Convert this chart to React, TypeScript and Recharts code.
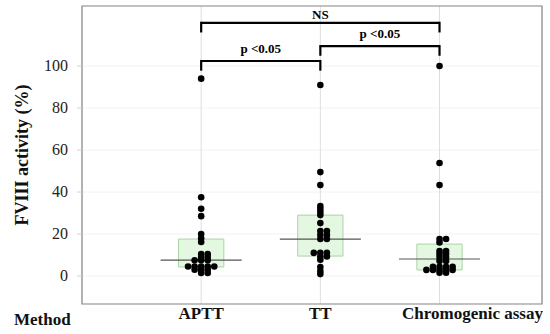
import { ComposedChart, Scatter, XAxis, YAxis, CartesianGrid, ReferenceArea, ReferenceLine } from 'recharts'

const methods = ['APTT', 'TT', 'Chromogenic assay']

// FVIII activity (%) per patient
const apttValues = [94, 37.5, 32, 28.5, 20, 18, 16.2, 10.5, 10.5, 9, 9, 7.5, 7.5, 7.5, 4.5, 4.5, 4.5, 4.5, 4.5, 3, 3, 3, 1.4, 1.4]
const ttValues = [91, 49.5, 43.3, 33.3, 31.9, 30.5, 29, 25.2, 21.4, 21.4, 19.5, 19.5, 17.6, 17.6, 11, 11, 11, 9.3, 9.3, 7.8, 4.3, 2.4, 0.9]
const chromogenicValues = [100, 53.8, 43.3, 17.6, 17.6, 16, 11.9, 11.9, 10.5, 10.5, 9, 9, 7.2, 7.2, 4.4, 4.4, 4.4, 4.4, 2.9, 2.9, 2.9, 2.9, 2.9, 1.6, 1.6]

// box summaries
const q1Values = [4.3, 9.5, 2.9]
const medianValues = [7.6, 17.6, 8.1]
const q3Values = [17.6, 29, 15.2]

const yTicks = [0, 20, 40, 60, 80, 100]

const comparisons = [
  { from: 0, to: 2, label: 'NS' },
  { from: 0, to: 1, label: 'p <0.05' },
  { from: 1, to: 2, label: 'p <0.05' },
]

// layout
const W = 550
const H = 334
const X_DOMAIN: [number, number] = [0, 3.86]
const Y_DOMAIN: [number, number] = [-13.33, 128.6]
const BOX_HALF = 0.19
const MEDIAN_HALF = 0.34
const DOT_STEP = 0.055
const BIN = 1.5
const bracketLevels = [120.6, 102.4, 109.5]
const LEG = 4.6
const labelShift = [0, 0, 33]
const FONT = 'Liberation Serif'
const serif = { fontFamily: FONT }

// simple dot-plot layout: values in the same bin sit side by side
function layoutDots(values: number[], center: number) {
  const bins: Record<number, number> = {}
  return values.map(v => {
    const b = Math.round(v / BIN)
    const i = bins[b] ?? 0
    bins[b] = i + 1
    const k = i === 0 ? 0 : (i % 2 === 1 ? (i + 1) / 2 : -i / 2)
    return { x: center + k * DOT_STEP, y: v }
  })
}

const groups = [apttValues, ttValues, chromogenicValues]
const points = groups.flatMap((vals, i) => layoutDots(vals, i + 1))

const Dot = (p: any) => <circle cx={p.cx} cy={p.cy} r={3.3} fill="#000" />

const MethodTick = (p: any) => {
  const idx = Math.round(p.payload.value) - 1
  return (
    <text x={p.x + labelShift[idx]} y={p.y + 15} textAnchor="middle" style={serif} fontSize={17} fontWeight="bold" fill="#111">
      {methods[idx]}
    </text>
  )
}

const ValueTick = (p: any) => (
  <text x={p.x} y={p.y} dy={5} textAnchor="end" style={serif} fontSize={16} fill="#222">
    {p.payload.value}
  </text>
)

export default function App() {
  return (
    <div style={{ position: 'absolute', left: 0, top: 0, background: '#fff', fontFamily: FONT }}>
      <ComposedChart width={W} height={H} margin={{ top: 6, right: 8, bottom: 0, left: 0 }} style={serif}>
        <CartesianGrid vertical={false} stroke="#f2f2f2" />
        <CartesianGrid horizontal={false} stroke="#dedede" />
        <XAxis
          type="number"
          dataKey="x"
          domain={X_DOMAIN}
          ticks={[1, 2, 3]}
          height={30}
          axisLine={false}
          tickLine={false}
          tickSize={0}
          tickMargin={0}
          tick={<MethodTick />}
          label={{
            content: (props: any) => (
              <text x={props.viewBox.x - 68} y={props.viewBox.y + 21} style={serif} fontSize={17} fontWeight="bold" fill="#111">
                Method
              </text>
            ),
          }}
        />
        <YAxis
          type="number"
          dataKey="y"
          domain={Y_DOMAIN}
          ticks={yTicks}
          width={82}
          axisLine={false}
          tickSize={5}
          tickMargin={9}
          tickLine={{ stroke: '#cfcfcf' }}
          tick={<ValueTick />}
          label={{
            content: (props: any) => (
              <text
                transform={`translate(22, ${props.viewBox.y + props.viewBox.height / 2}) rotate(-90)`}
                textAnchor="middle"
                dominantBaseline="central"
                style={serif}
                fontSize={18}
                fontWeight="bold"
                fill="#111"
              >
                FVIII activity (%)
              </text>
            ),
          }}
        />
        <ReferenceArea x1={X_DOMAIN[0]} x2={X_DOMAIN[1]} y1={Y_DOMAIN[0]} y2={Y_DOMAIN[1]} fill="none" stroke="#8a8a8a" strokeWidth={1.2} />
        {methods.map((m, i) => (
          <ReferenceArea
            key={m}
            x1={i + 1 - BOX_HALF}
            x2={i + 1 + BOX_HALF}
            y1={q1Values[i]}
            y2={q3Values[i]}
            fill="#e3f7e1"
            fillOpacity={1}
            stroke="#abd3a7"
          />
        ))}
        {methods.map((m, i) => (
          <ReferenceLine
            key={`med-${m}`}
            segment={[{ x: i + 1 - MEDIAN_HALF, y: medianValues[i] }, { x: i + 1 + MEDIAN_HALF, y: medianValues[i] }]}
            stroke="#555"
            strokeWidth={1.2}
          />
        ))}
        <Scatter data={points} shape={<Dot />} isAnimationActive={false} />
        {comparisons.map((c, i) => {
          const lvl = bracketLevels[i]
          return [
            <ReferenceLine
              key={`b-${i}`}
              segment={[{ x: c.from + 1, y: lvl }, { x: c.to + 1, y: lvl }]}
              stroke="#000"
              strokeWidth={2.2}
              label={{
                position: 'top',
                content: (props: any) => {
                  const vb = props.viewBox
                  return (
                    <text x={vb.x + vb.width / 2} y={vb.y - (i === 0 ? 4 : 8)} textAnchor="middle" style={serif} fontSize={13} fontWeight="bold" fill="#000">
                      {c.label}
                    </text>
                  )
                },
              }}
            />,
            <ReferenceLine
              key={`l-${i}`}
              segment={[{ x: c.from + 1, y: lvl + 0.5 }, { x: c.from + 1, y: lvl - LEG }]}
              stroke="#000"
              strokeWidth={2.2}
            />,
            <ReferenceLine
              key={`r-${i}`}
              segment={[{ x: c.to + 1, y: lvl + 0.5 }, { x: c.to + 1, y: lvl - LEG }]}
              stroke="#000"
              strokeWidth={2.2}
            />,
          ]
        })}
      </ComposedChart>
    </div>
  )
}
